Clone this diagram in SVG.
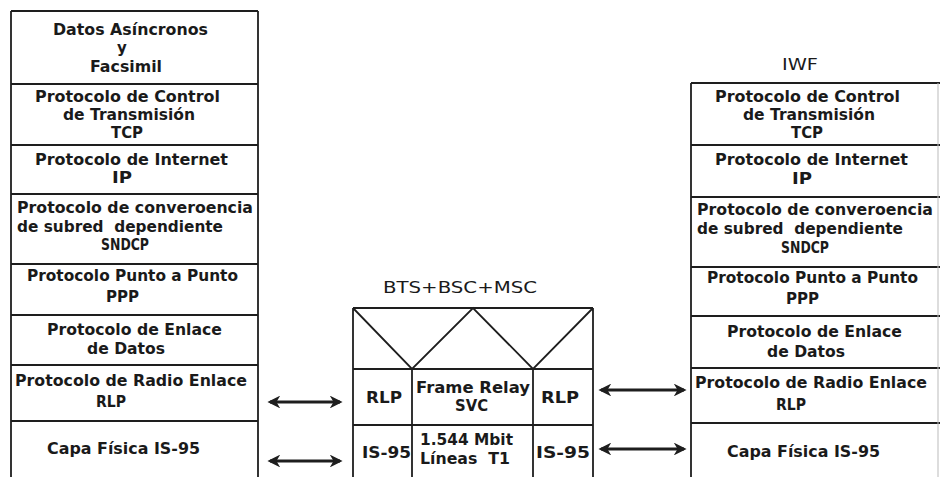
<svg xmlns="http://www.w3.org/2000/svg" width="940" height="477" viewBox="0 0 940 477">
<style>
.ln{stroke:#1e1e1e;stroke-width:1.8;fill:none}
.t{font-family:"DejaVu Sans",Verdana,sans-serif;font-weight:bold;font-size:15px;fill:#1a1a1a}
.n{font-family:"DejaVu Sans",Verdana,sans-serif;font-size:15px;fill:#1a1a1a}
.a{stroke:#1e1e1e;stroke-width:2.8;fill:none;marker-start:url(#ah);marker-end:url(#ah)}
</style>
<defs>
<marker id="ah" viewBox="0 0 10 10" refX="8" refY="5" markerWidth="4.6" markerHeight="4.6" orient="auto-start-reverse" markerUnits="strokeWidth">
<path d="M0,0 L10,5 L0,10 L3,5 Z" fill="#1e1e1e"/>
</marker>
</defs>
<rect width="940" height="477" fill="#fff"/>
<g id="left-stack">
<path class="ln" d="M11,11 H258 M11,11 V477 M258,11 V477 M11,84 H258 M11,145 H258 M11,194 H258 M11,264 H258 M11,315 H258 M11,365 H258 M11,421 H258"/>
<text class="t" x="53" y="35" textLength="155" lengthAdjust="spacingAndGlyphs">Datos Asíncronos</text>
<text class="t" x="122" y="53" text-anchor="middle">y</text>
<text class="t" x="90" y="72" textLength="72" lengthAdjust="spacingAndGlyphs">Facsimil</text>
<text class="t" x="35" y="102" textLength="185" lengthAdjust="spacingAndGlyphs">Protocolo de Control</text>
<text class="t" x="63" y="120" textLength="132" lengthAdjust="spacingAndGlyphs">de Transmisión</text>
<text class="t" x="111" y="138" textLength="32" lengthAdjust="spacingAndGlyphs">TCP</text>
<text class="t" x="35" y="165" textLength="193" lengthAdjust="spacingAndGlyphs">Protocolo de Internet</text>
<text class="t" x="112" y="183" textLength="20" lengthAdjust="spacingAndGlyphs">IP</text>
<text class="t" x="17" y="213" textLength="236" lengthAdjust="spacingAndGlyphs">Protocolo de converoencia</text>
<text class="t" x="17" y="232" textLength="206" lengthAdjust="spacingAndGlyphs" xml:space="preserve">de subred  dependiente</text>
<text class="t" x="101" y="250" textLength="48" lengthAdjust="spacingAndGlyphs">SNDCP</text>
<text class="t" x="27" y="281" textLength="211" lengthAdjust="spacingAndGlyphs">Protocolo Punto a Punto</text>
<text class="t" x="106" y="302" textLength="33" lengthAdjust="spacingAndGlyphs">PPP</text>
<text class="t" x="47" y="335" textLength="175" lengthAdjust="spacingAndGlyphs">Protocolo de Enlace</text>
<text class="t" x="87" y="354" textLength="78" lengthAdjust="spacingAndGlyphs">de Datos</text>
<text class="t" x="15" y="386" textLength="232" lengthAdjust="spacingAndGlyphs">Protocolo de Radio Enlace</text>
<text class="t" x="96" y="407" textLength="30" lengthAdjust="spacingAndGlyphs">RLP</text>
<text class="t" x="47" y="454" textLength="153" lengthAdjust="spacingAndGlyphs">Capa Física IS-95</text>
</g>
<g id="middle-stack">
<text class="n" x="383" y="293" textLength="154" lengthAdjust="spacingAndGlyphs">BTS+BSC+MSC</text>
<path class="ln" d="M353,308 H593 M353,308 V477 M593,308 V477 M353,369 H593 M353,425 H593 M412,369 V477 M533,369 V477 M353,308 L412,369 L473,308 L533,369 L593,308"/>
<text class="t" x="366" y="403" textLength="36" lengthAdjust="spacingAndGlyphs">RLP</text>
<text class="t" x="416" y="393" textLength="114" lengthAdjust="spacingAndGlyphs">Frame Relay</text>
<text class="t" x="455" y="411" textLength="33" lengthAdjust="spacingAndGlyphs">SVC</text>
<text class="t" x="541" y="403" textLength="38" lengthAdjust="spacingAndGlyphs">RLP</text>
<text class="t" x="362" y="458" textLength="49" lengthAdjust="spacingAndGlyphs">IS-95</text>
<text class="t" x="420" y="445" textLength="93" lengthAdjust="spacingAndGlyphs">1.544 Mbit</text>
<text class="t" x="420" y="464" textLength="90" lengthAdjust="spacingAndGlyphs" xml:space="preserve">Líneas  T1</text>
<text class="t" x="536" y="458" textLength="54" lengthAdjust="spacingAndGlyphs">IS-95</text>
</g>
<g id="right-stack">
<text class="n" x="782" y="70" textLength="36" lengthAdjust="spacingAndGlyphs">IWF</text>
<path class="ln" d="M691,83 H940 M691,83 V477 M691,145 H940 M691,197 H940 M691,267 H940 M691,316 H940 M691,368 H940 M691,423 H940"/>
<path d="M938,83 V477" stroke="#bbb" stroke-width="1" fill="none"/>
<text class="t" x="715" y="102" textLength="185" lengthAdjust="spacingAndGlyphs">Protocolo de Control</text>
<text class="t" x="743" y="120" textLength="132" lengthAdjust="spacingAndGlyphs">de Transmisión</text>
<text class="t" x="791" y="138" textLength="32" lengthAdjust="spacingAndGlyphs">TCP</text>
<text class="t" x="715" y="165" textLength="193" lengthAdjust="spacingAndGlyphs">Protocolo de Internet</text>
<text class="t" x="792" y="184" textLength="20" lengthAdjust="spacingAndGlyphs">IP</text>
<text class="t" x="697" y="215" textLength="236" lengthAdjust="spacingAndGlyphs">Protocolo de converoencia</text>
<text class="t" x="697" y="234" textLength="206" lengthAdjust="spacingAndGlyphs" xml:space="preserve">de subred  dependiente</text>
<text class="t" x="781" y="253" textLength="48" lengthAdjust="spacingAndGlyphs">SNDCP</text>
<text class="t" x="707" y="283" textLength="211" lengthAdjust="spacingAndGlyphs">Protocolo Punto a Punto</text>
<text class="t" x="786" y="304" textLength="33" lengthAdjust="spacingAndGlyphs">PPP</text>
<text class="t" x="727" y="337" textLength="175" lengthAdjust="spacingAndGlyphs">Protocolo de Enlace</text>
<text class="t" x="767" y="357" textLength="78" lengthAdjust="spacingAndGlyphs">de Datos</text>
<text class="t" x="695" y="388" textLength="232" lengthAdjust="spacingAndGlyphs">Protocolo de Radio Enlace</text>
<text class="t" x="776" y="410" textLength="30" lengthAdjust="spacingAndGlyphs">RLP</text>
<text class="t" x="727" y="457" textLength="153" lengthAdjust="spacingAndGlyphs">Capa Física IS-95</text>
</g>
<g id="connectors">
<path class="a" d="M270,402 H340"/>
<path class="a" d="M270,461 H340"/>
<path class="a" d="M601,390 H684"/>
<path class="a" d="M601,449 H684"/>
</g>
</svg>
